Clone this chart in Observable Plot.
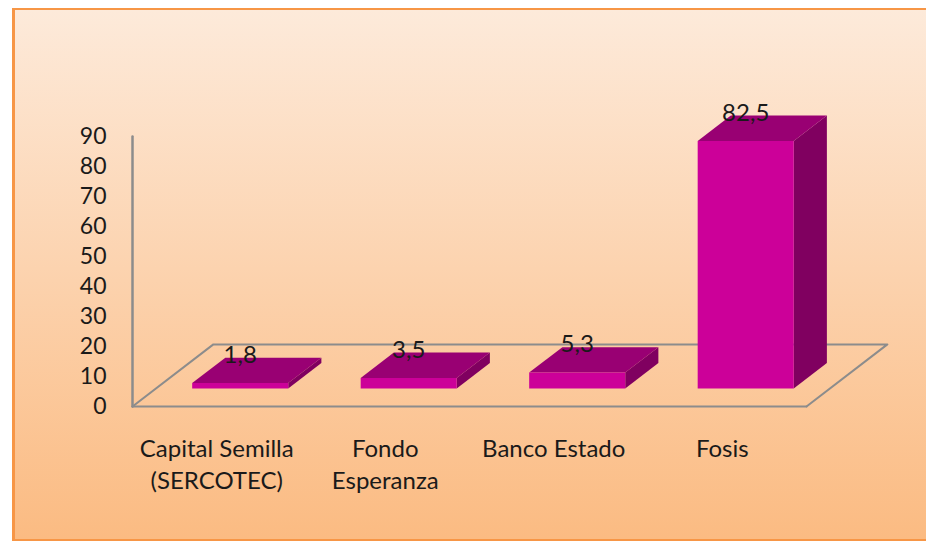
<!DOCTYPE html>
<html><head><meta charset="utf-8">
<script src="https://cdn.jsdelivr.net/npm/d3@7"></script>
<script src="https://cdn.jsdelivr.net/npm/@observablehq/plot@0.6"></script>
<style>
html,body{margin:0;padding:0;width:926px;height:541px;overflow:hidden;background:#fff}
#frame{position:absolute;box-sizing:border-box;left:12px;top:8px;width:914px;height:533px;border:solid #f79646;border-width:2px 0 2px 3px;background:linear-gradient(#fdeada,#fbbb82)}
#chart{position:absolute;left:0;top:0}
</style></head><body>
<div id="frame"></div><div id="chart"></div>
<script>
const categories = ["Capital Semilla\n(SERCOTEC)", "Fondo\nEsperanza", "Banco Estado", "Fosis"];
const values = [1.8, 3.5, 5.3, 82.5];
const valueLabels = ["1,8", "3,5", "5,3", "82,5"];
const yTicks = [0,10,20,30,40,50,60,70,80,90];

// oblique projection, in data units: one full floor depth moves this far
const depthX = 0.48, depthY = 20.7;
const barFront = 0.29, barBack = 0.70, barPad = 0.215;
const p = (i, d, v) => ({x: i + d * depthX, y: v + d * depthY});
const n = categories.length;

function faces(kind) {
  const rows = [];
  values.forEach((v, k) => {
    const a = k + barPad, b = k + 1 - barPad;
    let pts;
    if (kind === "front") pts = [p(a,barFront,0), p(b,barFront,0), p(b,barFront,v), p(a,barFront,v)];
    if (kind === "top") pts = [p(a,barFront,v), p(b,barFront,v), p(b,barBack,v), p(a,barBack,v)];
    if (kind === "side") pts = [p(b,barFront,0), p(b,barBack,0), p(b,barBack,v), p(b,barFront,v)];
    pts.forEach(q => rows.push({...q, bar: k}));
  });
  return rows;
}
const floorFront = [p(0,0,0), p(n,0,0)];
const floorOutline = [p(0,0,0), p(0,1,0), p(n,1,0), p(n,0,0)];
const wall = [p(0,0,0), p(0,0,90)];
const axisColor = "#8c8c8c";
const font = "Lato";

const chart = Plot.plot({
  width: 926, height: 541,
  marginLeft: 132, marginRight: 120, marginTop: 136, marginBottom: 135,
  style: {background: "transparent", fontFamily: font},
  x: {domain: [0, n], axis: null},
  y: {domain: [0, 90], axis: null},
  marks: [
    Plot.line(floorOutline, {x:"x", y:"y", stroke: axisColor, strokeWidth: 2}),
    Plot.line(floorFront, {x:"x", y:"y", stroke: axisColor, strokeWidth: 2}),
    Plot.line(wall, {x:"x", y:"y", stroke: axisColor, strokeWidth: 2.5}),
    Plot.line(faces("side"), {x:"x", y:"y", z:"bar", fill:"#800060", stroke:"none", curve:"linear-closed"}),
    Plot.line(faces("top"), {x:"x", y:"y", z:"bar", fill:"#990073", stroke:"none", curve:"linear-closed"}),
    Plot.line(faces("front"), {x:"x", y:"y", z:"bar", fill:"#cc0099", stroke:"none", curve:"linear-closed"}),
    Plot.axisY({ticks: yTicks, tickSize: 0, tickPadding: 26, label: null, fontSize: 23, fill: "#1a1a1a", tickFormat: d => String(d)}),
    Plot.text(categories, {
      x: (d, i) => i + 0.5, y: () => 0, text: d => d,
      dy: 28, lineAnchor: "top", lineHeight: 1.33, fontSize: 24, fill: "#1a1a1a"
    }),
    Plot.text(values, {
      x: (d, i) => i + 0.5 + barFront * depthX, y: d => d + barFront * depthY,
      text: (d, i) => valueLabels[i], dy: -28, fontSize: 24, fill: "#1a1a1a"
    })
  ]
});
document.getElementById("chart").append(chart);
</script></body></html>
